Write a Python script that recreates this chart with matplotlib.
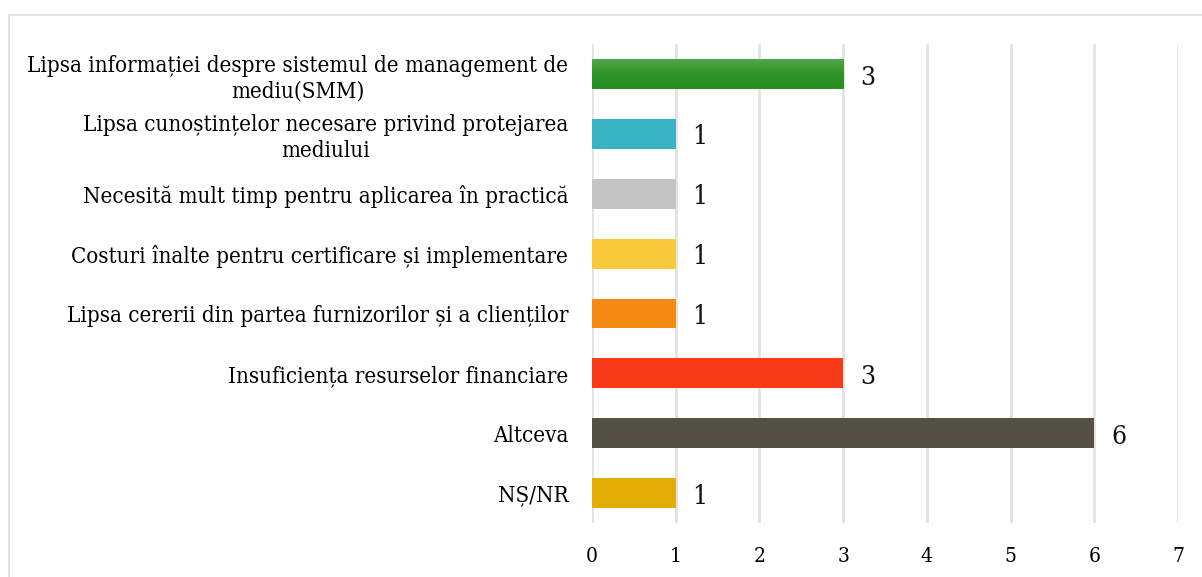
import numpy as np
import matplotlib.pyplot as plt
from matplotlib.patches import Rectangle
from matplotlib.colors import LinearSegmentedColormap

categorii = ["Lipsa informației despre sistemul de management de\nmediu(SMM)",
             "Lipsa cunoștințelor necesare privind protejarea\nmediului",
             "Necesită mult timp pentru aplicarea în practică",
             "Costuri înalte pentru certificare și implementare",
             "Lipsa cererii din partea furnizorilor și a clienților",
             "Insuficiența resurselor financiare",
             "Altceva",
             "NȘ/NR"]
valori = [3, 1, 1, 1, 1, 3, 6, 1]
culori = ["#2E9425", "#38B3C4", "#C4C4C4", "#F9C93A", "#F58A12", "#F93A16", "#545046", "#E2AD05"]
xticks = [0, 1, 2, 3, 4, 5, 6, 7]

plt.rcParams['font.family'] = ['DejaVu Serif']
plt.rcParams['font.stretch'] = 'condensed'

fig = plt.figure(figsize=(12.02, 5.77), dpi=100)
ax = fig.add_axes([0.4925, 0.0936, 0.4875, 0.83])

# chenarul graficului
fig.patches.append(Rectangle((9/1202, -0.1), 1.2, 0.1 + (1 - 15/577), transform=fig.transFigure,
                             fill=False, edgecolor='#E3E3DF', linewidth=1.5))

y = np.arange(len(categorii))
bare = ax.barh(y, valori, height=0.5, color=culori, zorder=3)

# gradient usor pe bara verde (mai deschis sus)
b = bare[0]
grad = np.linspace(0, 1, 50).reshape(-1, 1)
cm = LinearSegmentedColormap.from_list('g', ['#52A54A', '#2E9425', '#2A8F20'])
ax.imshow(grad, cmap=cm, aspect='auto', zorder=4, origin='upper',
          extent=[b.get_x(), b.get_x() + b.get_width(), b.get_y() + b.get_height(), b.get_y()])

for v, yy in zip(valori, y):
    ax.text(v + 0.2, yy + 0.05, str(v), va='center', ha='left', fontsize=19, color='#111111')

ax.set_ylim(len(categorii) - 0.5, -0.5)
ax.set_xlim(0, 7)
ax.set_xticks(xticks)
ax.set_yticks(y)
ax.set_yticklabels(categorii, fontsize=16)
for t in ax.get_yticklabels():
    t.set_multialignment('center')
    t.set_linespacing(1.22)
ax.tick_params(axis='y', length=0, pad=17)
ax.tick_params(axis='x', length=0, pad=17, labelsize=15)
ax.grid(axis='x', color='#E2E2DE', linewidth=2, zorder=0)
for s in ax.spines.values():
    s.set_visible(False)

plt.savefig('out.png', dpi=100)
